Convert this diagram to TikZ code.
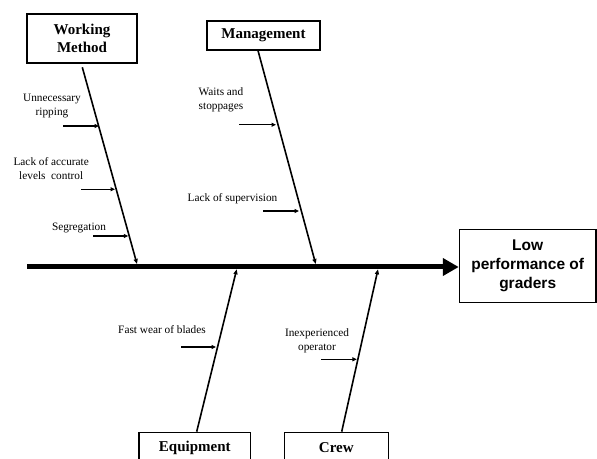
\documentclass[tikz,border=0pt]{standalone}
\usepackage{fontspec}
\setmainfont{Liberation Serif}
\newfontfamily\arialfont{Liberation Sans}
\usetikzlibrary{arrows.meta,calc}

\tikzset{
  catbox/.style={draw, line width=1.2pt, inner sep=0pt, align=center,
    font=\fontsize{15}{18}\selectfont\bfseries},
  effectbox/.style={draw, line width=1.2pt, inner sep=0pt, align=center,
    font=\arialfont\fontsize{15.5}{19}\selectfont\bfseries},
  causetext/.style={inner sep=0pt, align=center,
    font=\fontsize{11.3}{14}\selectfont},
  bone/.style={line width=1.6pt, -{Triangle[length=5pt,width=4pt]}},
  causearrow/.style={line width=1.1pt, -{Triangle[length=4.5pt,width=4pt]}},
  spine/.style={line width=5pt, -{Triangle[length=16pt,width=17pt]}}
}

\begin{document}
\begin{tikzpicture}[x=1pt,y=1pt]
\useasboundingbox (0,0) rectangle (597,458);

% category boxes
\node[catbox, minimum width=110pt, minimum height=49pt] (wm) at (82,419.5) {Working\\Method};
\node[catbox, minimum width=113pt, minimum height=29pt] (mg) at (263.5,422.5) {Management};
\node[catbox, minimum width=111.7pt, minimum height=30.7pt] (eq) at (194.8,10.4) {Equipment};
\node[catbox, minimum width=104pt, minimum height=30.7pt] (cr) at (336.3,10.4) {Crew};

% effect box
\node[effectbox, minimum width=136.7pt, minimum height=73pt] (low) at (527.7,192) {Low\\performance of\\graders};

% spine
\coordinate (tail) at (27,191);
\draw[spine] (tail) -- (tail -| low.west);

% bone ends on the spine
\coordinate (wmend) at (137,194);
\coordinate (mgend) at (315.7,194);
\coordinate (eqend) at (236.7,188.7);
\coordinate (crend) at (378,188.7);

% bones
\draw[bone] ($(wm.south)+(0.3,-3.7)$) -- (wmend);
\draw[bone] ($(mg.south)+(-5.5,0)$) -- (mgend);
\draw[bone] ($(eq.north)+(1.9,0)$) -- (eqend);
\draw[bone] ($(cr.north)+(5.4,0)$) -- (crend);

% cause labels
\node[causetext] (c1) at (52,352) {Unnecessary\\ripping};
\node[causetext] (c2) at (51.2,289.1) {Lack of accurate\\levels\ \ control};
\node[causetext] (c3) at (79,230.3) {Segregation};
\node[causetext] (c4) at (221,358.2) {Waits and\\stoppages};
\node[causetext] (c5) at (232.5,259.7) {Lack of supervision};
\node[causetext] (c6) at (162,128.7) {Fast wear of blades};
\node[causetext] (c7) at (317,117.5) {Inexperienced\\operator};

% cause arrows
\coordinate (s1) at (63.3,332);   \coordinate (e1) at (99,332);
\coordinate (s2) at (81,268.7);   \coordinate (e2) at (115,268.7);
\coordinate (s3) at (93.3,222);   \coordinate (e3) at (128.3,222);
\coordinate (s4) at (239.3,333.3);\coordinate (e4) at (276,333.3);
\coordinate (s5) at (263.3,247);  \coordinate (e5) at (299,247);
\coordinate (s6) at (181,111);    \coordinate (e6) at (216,111);
\coordinate (s7) at (321,98.7);   \coordinate (e7) at (356.8,98.7);
\foreach \i in {1,...,7} \draw[causearrow] (s\i) -- (e\i);
\end{tikzpicture}
\end{document}
